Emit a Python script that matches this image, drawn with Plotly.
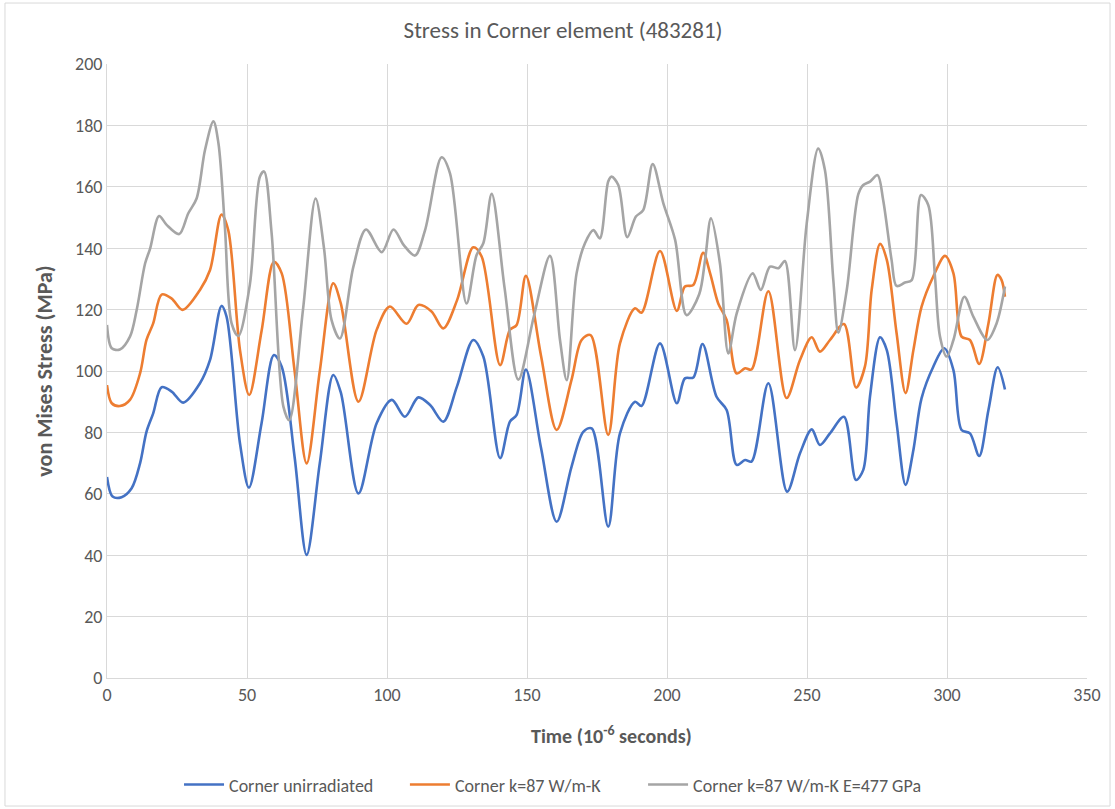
import plotly.graph_objects as go

# Corner element 483281: von Mises stress (MPa) against time (microseconds)
t_unirr = [0, 2, 5.2, 8.8, 11.8, 14.1, 16.5, 19.5, 23.1, 27.2, 33.2, 36.8, 40.9, 42.7, 47.5, 50.7,
           55.2, 59.6, 62.4, 67, 71.3, 76, 80.8, 83.5, 89.8, 96.3, 101.7, 106.4, 111.2, 115.4,
           120.1, 125, 130.8, 134.4, 140.4, 143.9, 146.3, 149.6, 155, 160.6, 165.9, 170.1, 173.1,
           179, 183.2, 188.6, 190.9, 197.5, 203.5, 206.4, 209.4, 212.7, 217.7, 221.3, 224.9,
           227.9, 230.2, 236.2, 242.9, 247.5, 251.7, 254.6, 258.2, 263.2, 267.5, 270.1, 272.5,
           276.1, 278.5, 282, 285.2, 288, 290.9, 295.1, 299, 302.3, 305.2, 308.2, 311.5, 314.8,
           318.1, 320.7]
s_unirr = [65.5, 59.1, 58.9, 61.8, 69.9, 80.2, 86.2, 94.7, 93.3, 89.7, 96, 103.6, 121.2, 117.7,
           76.4, 62, 83, 105.2, 101.4, 72, 40.1, 70, 98.7, 93, 60.1, 83, 90.6, 85.1, 91.4, 88.9,
           83.5, 95, 110.1, 104.7, 71.6, 83.5, 85.7, 100.5, 75, 50.9, 68.8, 80.2, 81.3, 49.3,
           79.7, 90, 88.6, 109, 89.5, 97.6, 97.9, 108.8, 91.6, 87.3, 69.4, 71, 70.5, 96, 60.7,
           73.2, 81, 75.9, 79.7, 85.1, 64.5, 67.8, 91.7, 111, 106.8, 83, 62.9, 74.3, 91.1, 101.4,
           107.4, 100.3, 80.8, 79.7, 72.3, 87.3, 101.2, 94]

t_k87 = [0, 1.7, 4.6, 8.2, 11.8, 14.1, 16.5, 19.5, 23.1, 27, 33.2, 36.8, 40.9, 43.3, 47.5, 50.8,
         55.2, 59.6, 62.4, 67, 71.3, 76, 80.8, 83.5, 89.8, 96.3, 101, 107, 111.2, 115.9, 120.1,
         125, 130.8, 133.8, 140.4, 143.9, 146.3, 149.6, 155, 160.6, 165.9, 169.5, 172.7, 179,
         183.2, 188.6, 190.9, 197.5, 203.5, 206.4, 209.4, 212.9, 215.4, 218.3, 221.3, 224.9,
         227.9, 230.2, 236.2, 242.7, 247.5, 251.7, 254.6, 258.2, 263.2, 267.5, 270.7, 273.1,
         276.1, 278.5, 282, 285.2, 288, 290.9, 295.1, 299.3, 302.3, 305.2, 308.2, 311.5, 314.8,
         318, 319.5, 320.7]
s_k87 = [95.4, 89.5, 88.6, 90.6, 99.2, 110.1, 115.5, 124.9, 123.6, 119.9, 126.4, 132.9, 151,
         145.9, 106.8, 92.2, 113, 135.6, 131.8, 100, 69.9, 100, 128.6, 122, 90, 113.4, 121,
         115.4, 121.5, 119.4, 113.9, 123, 140.3, 137.3, 101.9, 113.4, 115, 131, 105, 80.8, 97.1,
         110.1, 111.7, 79.2, 109, 120.4, 119, 139.1, 119.6, 127.5, 128, 138.5, 131.8, 122,
         116.6, 99.2, 100.9, 100.5, 126, 91.2, 103.6, 111, 106.3, 110.1, 115.3, 94.6, 101.5,
         126.4, 141.4, 136.2, 112.3, 92.8, 106.8, 120.9, 130.8, 137.5, 131.8, 111.2, 110.1,
         102.3, 115.5, 131.3, 129.6, 124.2]

t_k87_e477 = [0, 1.7, 4.6, 8.2, 10.6, 13.6, 15.4, 18.6, 21.3, 25.8, 29, 32, 35, 38, 39.8, 42.1,
              44.5, 46.9, 51, 54.6, 56.1, 58.8, 63, 65.1, 70, 74.5, 77.5, 80.2, 83.2, 88, 92.5,
              98.1, 102.3, 106, 110, 113.6, 119.5, 122.5, 128.4, 132, 134.4, 137.4, 142, 146.9,
              152.5, 158.2, 161.8, 164.2, 167.7, 170.7, 173.7, 176, 179, 180.2, 182.6, 185.8,
              188.9, 191.5, 194.9, 198.7, 202.9, 207, 211.5, 213.6, 215.7, 218.9, 221.9, 224.9,
              230.6, 233.5, 236.8, 239.8, 242.1, 245.7, 249.9, 254, 256.4, 259.4, 261.2, 264.2,
              268.3, 270.1, 272.5, 275.2, 277.2, 280.2, 282, 285, 287.4, 290.7, 293.3, 295.7,
              297.5, 299.9, 302.3, 306.2, 309.4, 314.4, 317.7, 320.7]
s_k87_e477 = [115, 107.4, 107, 111.2, 119.9, 135, 139.9, 150.5, 147.6, 144.6, 151.3, 156.2, 172,
              181.3, 174.2, 147, 115.5, 111.4, 128, 163.3, 165, 144.8, 88.4, 84, 120, 156.2, 140,
              116.6, 110.6, 134, 146.1, 138.7, 146.1, 141, 137.6, 145.9, 169.6, 164.4, 122, 137.8,
              141.6, 157.7, 127, 97.2, 118, 137.5, 110, 97, 131.8, 141.6, 145.9, 143.2, 161.7,
              163.3, 160.6, 143.6, 150.3, 152.4, 167.4, 154.6, 142.7, 118.2, 125, 136.2, 149.7,
              135.1, 105.7, 118.8, 131.8, 126.4, 134, 133.5, 135.8, 106.8, 148.1, 172.5, 165.5,
              129.6, 112.5, 126.4, 157.5, 160.6, 161.7, 163.8, 155.7, 136.2, 127.7, 128.8, 129.6,
              157.3, 154.1, 130.8, 111.2, 104.7, 110.1, 124.2, 117.7, 110.1, 115.5, 127.5]

series = [
    ("Corner unirradiated", t_unirr, s_unirr, "#4472C4"),
    ("Corner k=87 W/m-K", t_k87, s_k87, "#ED7D31"),
    ("Corner k=87 W/m-K E=477 GPa", t_k87_e477, s_k87_e477, "#A5A5A5"),
]

x_ticks = [0, 50, 100, 150, 200, 250, 300, 350]
y_ticks = [0, 20, 40, 60, 80, 100, 120, 140, 160, 180, 200]

FONT = "Carlito, 'Liberation Sans Narrow', Lato, sans-serif"
TEXT = "#595959"
GRID = "#D9D9D9"

# one legend box per series so each entry sits at its own spot along the bottom row
legend_ids = ["legend", "legend2", "legend3"]
legend_x = [0.0735, 0.304, 0.547]

fig = go.Figure()
for (name, t, s, color), lid in zip(series, legend_ids):
    fig.add_trace(go.Scatter(
        x=t, y=s, name=name, mode="lines", legend=lid,
        line=dict(color=color, width=2.6, shape="spline", smoothing=0.9),
    ))

legend_style = dict(orientation="h", xanchor="left", y=-0.174, yanchor="middle",
                    font=dict(size=18, color=TEXT), itemwidth=40, bgcolor="rgba(0,0,0,0)")

fig.update_layout(
    width=1115, height=809,
    margin=dict(l=107, r=28, t=64, b=131, autoexpand=False),
    paper_bgcolor="white", plot_bgcolor="white",
    font=dict(family=FONT, color=TEXT, size=18),
    title=dict(text="Stress in Corner element (483281)", x=0.505, xanchor="center",
               y=0.963, yanchor="middle", font=dict(size=23, color=TEXT)),
    showlegend=True,
    legend=dict(x=legend_x[0], **legend_style),
    legend2=dict(x=legend_x[1], **legend_style),
    legend3=dict(x=legend_x[2], **legend_style),
    xaxis=dict(range=[0, 350], tickvals=x_ticks, showgrid=True, gridcolor=GRID, gridwidth=1,
               zeroline=False, showline=True, linecolor=GRID, linewidth=1, mirror=False,
               ticks="", tickfont=dict(size=18, color=TEXT)),
    yaxis=dict(range=[0, 200], tickvals=y_ticks, showgrid=True, gridcolor=GRID, gridwidth=1,
               zeroline=False, showline=True, linecolor=GRID, linewidth=1,
               ticks="", tickfont=dict(size=18, color=TEXT),
               title=dict(text="<b>von Mises Stress (MPa)</b>", standoff=16,
                          font=dict(size=22, color=TEXT))),
)

# x-axis title, centred under the chart body
fig.add_annotation(text="<b>Time (10<sup>-6</sup> seconds)</b>", xref="paper", yref="paper",
                   x=0.515, y=-0.093, xanchor="center", yanchor="middle", showarrow=False,
                   font=dict(size=20, color=TEXT))

# thin frame around the whole chart area
fig.add_shape(type="rect", xref="paper", yref="paper",
              x0=-0.1041, x1=1.0235, y0=-0.2085, y1=1.0993,
              line=dict(color=GRID, width=1), fillcolor="rgba(0,0,0,0)", layer="below")

fig.write_html("out.html")
